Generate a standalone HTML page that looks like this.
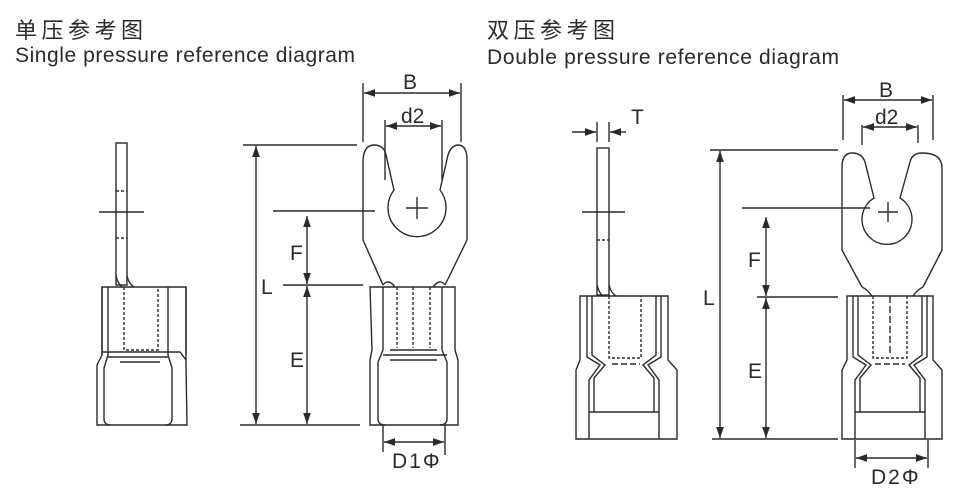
<!DOCTYPE html>
<html><head><meta charset="utf-8"><style>
html,body{margin:0;padding:0;background:#fff;width:960px;height:492px;overflow:hidden}
svg{display:block}
text{font-family:"Liberation Sans","Noto Sans CJK SC",sans-serif;fill:#2a2a2a}
</style></head><body>
<svg width="960" height="492" viewBox="0 0 960 492" xmlns="http://www.w3.org/2000/svg">
<defs>
<marker id="a" viewBox="0 0 10 10" refX="10" refY="5" markerWidth="8" markerHeight="8" orient="auto-start-reverse"><path d="M0,1.5 L10,5 L0,8.5 z" fill="#2a2a2a"/></marker>
</defs>
<text x="15" y="38" font-size="22" textLength="128">单压参考图</text>
<text x="15" y="62" font-size="21" textLength="340">Single pressure reference diagram</text>
<text x="487" y="38" font-size="22" textLength="128">双压参考图</text>
<text x="487" y="64" font-size="21" textLength="352">Double pressure reference diagram</text>

<g fill="none" stroke="#2a2a2a" stroke-width="1.4">
<rect x="116" y="143" width="11" height="142"/>
<line x1="99" y1="212" x2="144" y2="212"/>
<line x1="116" y1="191" x2="127" y2="191" stroke-dasharray="3,2"/>
<line x1="116" y1="238" x2="127" y2="238" stroke-dasharray="3,2"/>
<path d="M116,276 Q118,284 122,287 M127,276 Q129,284 134,287"/>
<path d="M102,287 L186,287 L186,365 L187,425 L97,425 L97,365 L102,355 Z"/>
<path d="M102,287 L102,355 M186,287 L186,355"/>
<path d="M108,287 L108,355 L104,368 L104,420 Q105,425 110,425 M168,287 L168,355 L172,368 L172,420 Q171,425 166,425"/>
<path d="M103,352 L180,352 L186,360" />
<path d="M108,357 L168,357 M120,362 L160,362"/>
<path d="M124,287 L124,350 L158,350 L158,287" stroke-dasharray="3,2"/>

<path d="M383,285 L363,240 L363,160 Q364,145 374,145 Q384,145 386,155 L394,190 A29,29 0 1 0 440,190 L448,155 Q451,145 459,145 Q467,146 467,160 L467,240 L445,285"/>
<line x1="406" y1="208" x2="428" y2="208"/><line x1="417" y1="197" x2="417" y2="219"/>
<path d="M383,285 Q388,278 395,287 M445,285 Q440,278 433,287"/>
<path d="M370,287 L455,287 L455,350 L458,360 L458,425 L370,425 L370,360 L372,350 Z"/>
<path d="M383,287 L383,350 L378,362 L378,420 Q379,425 385,425 M442,287 L442,350 L447,362 L447,420 Q446,425 440,425"/>
<path d="M390,350 L437,350 M383,355 L447,355 M390,360 L437,360"/>
<path d="M397,287 L397,348 M430,287 L430,348 M413,287 L413,348" stroke-dasharray="3,2"/>
<line x1="363" y1="83" x2="363" y2="142"/><line x1="461" y1="83" x2="461" y2="142"/>
<line x1="364" y1="93" x2="460" y2="93" marker-start="url(#a)" marker-end="url(#a)"/>
<line x1="385" y1="120" x2="385" y2="180"/><line x1="442" y1="120" x2="442" y2="180"/>
<line x1="386" y1="126" x2="441" y2="126" marker-start="url(#a)" marker-end="url(#a)"/>
<line x1="243" y1="145" x2="357" y2="145"/><line x1="240" y1="425" x2="360" y2="425"/>
<line x1="256" y1="146" x2="256" y2="424" marker-start="url(#a)" marker-end="url(#a)"/>
<line x1="273" y1="211" x2="375" y2="211"/>
<line x1="283" y1="285" x2="363" y2="285"/>
<line x1="307" y1="216" x2="307" y2="284" marker-start="url(#a)" marker-end="url(#a)"/>
<line x1="307" y1="286" x2="307" y2="424" marker-start="url(#a)" marker-end="url(#a)"/>
<line x1="383" y1="425" x2="383" y2="452"/><line x1="445" y1="425" x2="445" y2="455"/>
<line x1="384" y1="442" x2="444" y2="442" marker-start="url(#a)" marker-end="url(#a)"/>

<rect x="597" y="148" width="12" height="147"/>
<line x1="582" y1="212" x2="625" y2="212"/>
<line x1="597" y1="240" x2="609" y2="240" stroke-dasharray="3,2"/>
<path d="M597,285 Q599,293 603,296 M609,285 Q611,293 616,296"/>
<line x1="597" y1="122" x2="597" y2="142"/><line x1="609" y1="122" x2="609" y2="142"/>
<line x1="572" y1="132" x2="596" y2="132" marker-end="url(#a)"/>
<line x1="626" y1="132" x2="610" y2="132" marker-end="url(#a)"/>
<path d="M580,296 L668,296 L668,360 L677,370 L677,439 L576,439 L576,370 L580,360 Z"/>
<path d="M592,296 L592,355 L605,365 L594,378 L594,412 M656,296 L656,355 L643,365 L654,378 L654,412"/>
<path d="M587,296 L587,357 L600,365 L589,380 L589,439 M661,296 L661,357 L648,365 L659,380 L659,439"/>
<line x1="589" y1="412" x2="659" y2="412"/>
<path d="M609,296 L609,358 L641,358 L641,296" stroke-dasharray="3,2"/>
<line x1="612" y1="364" x2="640" y2="364" stroke-dasharray="6,3"/>

<path d="M862,287 L842,250 L842,165 Q843,153 852,153 Q862,153 865,162 L874,198 A25,25 0 1 0 900,198 L910,162 Q912,153 922,153 Q942,153 942,168 L942,250 L923,287"/>
<line x1="878" y1="212" x2="898" y2="212"/><line x1="888" y1="202" x2="888" y2="222"/>
<path d="M862,287 Q868,290 872,296 M923,287 Q917,290 913,296"/>
<path d="M847,296 L933,296 L933,360 L942,370 L942,439 L842,439 L842,370 L847,360 Z"/>
<path d="M858,296 L858,355 L871,365 L860,378 L860,412 M922,296 L922,355 L909,365 L920,378 L920,412"/>
<path d="M853,296 L853,357 L866,365 L855,380 L855,439 M927,296 L927,357 L914,365 L925,380 L925,439"/>
<line x1="855" y1="412" x2="925" y2="412"/>
<path d="M873,296 L873,358 L907,358 L907,296" stroke-dasharray="3,2"/>
<line x1="890" y1="296" x2="890" y2="356" stroke-dasharray="7,3"/>
<line x1="875" y1="364" x2="905" y2="364" stroke-dasharray="6,3"/>
<line x1="843" y1="95" x2="843" y2="140"/><line x1="933" y1="95" x2="933" y2="140"/>
<line x1="844" y1="100" x2="932" y2="100" marker-start="url(#a)" marker-end="url(#a)"/>
<line x1="862" y1="125" x2="862" y2="145"/><line x1="918" y1="125" x2="918" y2="143"/>
<line x1="863" y1="127" x2="917" y2="127" marker-start="url(#a)" marker-end="url(#a)"/>
<line x1="710" y1="150" x2="838" y2="150"/><line x1="712" y1="439" x2="838" y2="439"/>
<line x1="720" y1="151" x2="720" y2="438" marker-start="url(#a)" marker-end="url(#a)"/>
<line x1="742" y1="208" x2="870" y2="208"/>
<line x1="757" y1="297" x2="838" y2="297"/>
<line x1="766" y1="217" x2="766" y2="296" marker-start="url(#a)" marker-end="url(#a)"/>
<line x1="766" y1="298" x2="766" y2="438" marker-start="url(#a)" marker-end="url(#a)"/>
<line x1="855" y1="440" x2="855" y2="468"/><line x1="928" y1="440" x2="928" y2="468"/>
<line x1="856" y1="458" x2="927" y2="458" marker-start="url(#a)" marker-end="url(#a)"/>
</g>

<g font-size="21">
<text x="403" y="89">B</text>
<text x="401" y="123">d2</text>
<text x="261" y="294">L</text>
<text x="290" y="260">F</text>
<text x="290" y="367">E</text>
<text x="392" y="468" letter-spacing="2">D1Φ</text>
<text x="879" y="97">B</text>
<text x="875" y="124">d2</text>
<text x="631" y="124">T</text>
<text x="703" y="305">L</text>
<text x="748" y="267">F</text>
<text x="748" y="378">E</text>
<text x="871" y="484" letter-spacing="2">D2Φ</text>
</g>
</svg>
</body></html>
